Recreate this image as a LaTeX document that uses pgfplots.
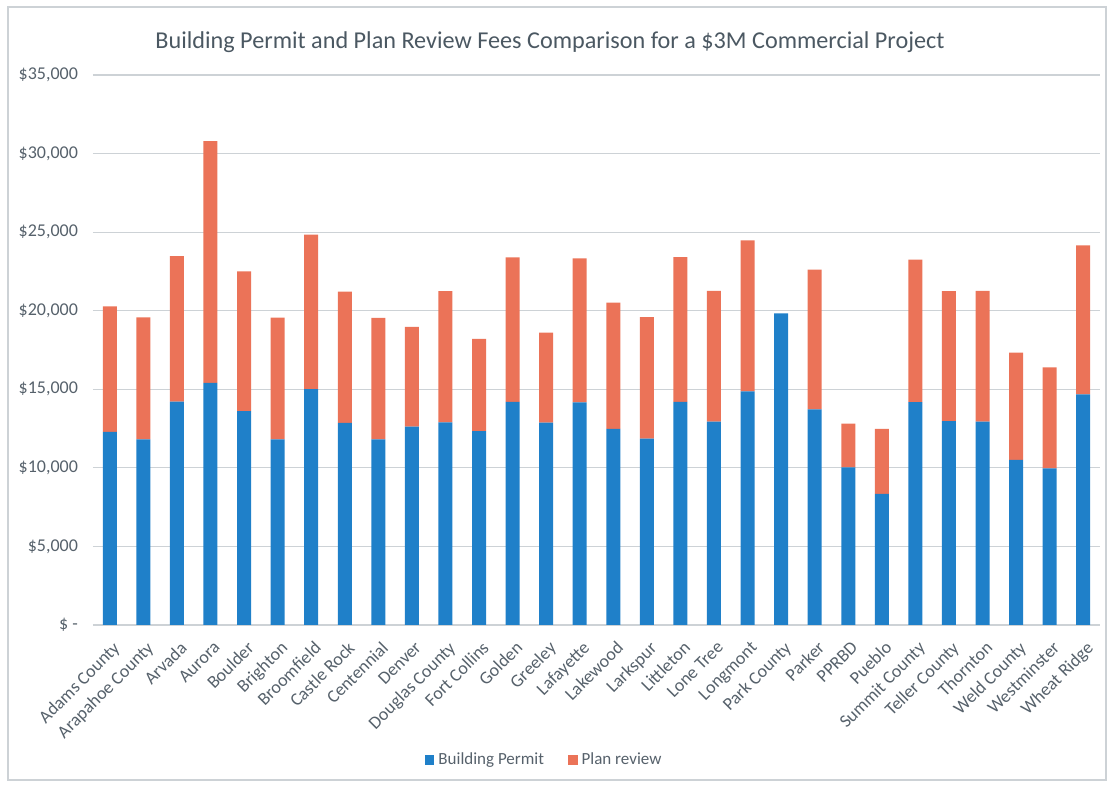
\documentclass[border=0pt]{standalone}
\usepackage{pgfplots}
\pgfplotsset{compat=1.18}
\usepackage{pgfplotstable}
\usepackage{fontspec}
\setmainfont{Carlito}
\definecolor{permit}{HTML}{1F80C9}
\definecolor{review}{HTML}{EB7358}
\definecolor{txt}{HTML}{56616B}
\definecolor{ttl}{HTML}{4B5862}
\definecolor{gridc}{HTML}{CDD2D6}

% permit and plan review fees (USD)
\pgfplotstableread{
x permit review
0  12290 7980
1  11820 7750
2  14220 9250
3  15400 15390
4  13610 8890
5  11820 7740
6  15010 9830
7  12870 8340
8  11820 7730
9  12620 6350
10 12900 8350
11 12330 5880
12 14200 9190
13 12880 5730
14 14160 9170
15 12480 8030
16 11860 7730
17 14200 9210
18 12940 8320
19 14860 9610
20 19830 0
21 13720 8900
22 10030 2790
23 8350  4130
24 14180 9070
25 12970 8280
26 12940 8320
27 10510 6820
28 9960  6430
29 14670 9490
}\fees

\begin{document}
\begin{tikzpicture}
  \useasboundingbox (-46.5pt,-80pt) rectangle (509.5pt,312.5pt);
  \draw[gridc, line width=0.6pt] (-42.5pt,-77.5pt) rectangle (506.5pt,309pt);
  \begin{axis}[
      at={(0,0)}, anchor=south west,
      width=503.5pt, height=275pt, scale only axis,
      ybar stacked, bar width=7pt,
      xmin=-0.5, xmax=29.5, ymin=0, ymax=35000,
      scaled y ticks=false,
      axis line style={draw=none}, tick style={draw=none},
      ymajorgrids=true, grid style={gridc, line width=0.6pt},
      ytick={0,5000,10000,15000,20000,25000,30000,35000},
      yticklabels={{\$ -},{\$5,000},{\$10,000},{\$15,000},{\$20,000},{\$25,000},{\$30,000},{\$35,000}},
      yticklabel style={font=\fontsize{9}{10}\selectfont, text=txt, xshift=-4pt},
      xtick=data,
      xticklabels={Adams County,Arapahoe County,Arvada,Aurora,Boulder,Brighton,Broomfield,Castle Rock,Centennial,Denver,Douglas County,Fort Collins,Golden,Greeley,Lafayette,Lakewood,Larkspur,Littleton,Lone Tree,Longmont,Park County,Parker,PPRBD,Pueblo,Summit County,Teller County,Thornton,Weld County,Westminster,Wheat Ridge},
      xticklabel style={font=\fontsize{9}{10}\selectfont, text=txt, rotate=45, anchor=north east, inner sep=1pt, yshift=-5pt, xshift=-3.5pt},
      legend columns=2,
      legend style={at={(0.449,-0.245)}, anchor=center, draw=none, fill=none,
        font=\fontsize{8.5}{10}\selectfont, text=txt,
        /tikz/every even column/.append style={column sep=10pt}},
      legend image code/.code={\fill[#1] (0pt,-2.4pt) rectangle (4.8pt,2.4pt);},
    ]
    \addplot[fill=permit, draw=none] table[x=x, y=permit] {\fees};
    \addplot[fill=review, draw=none] table[x=x, y=review] {\fees};
    \legend{Building Permit, Plan review}
  \end{axis}
  \node[text=ttl, font=\fontsize{12.1}{15}\selectfont] at (228.5pt,291.5pt)
    {Building Permit and Plan Review Fees Comparison for a \$3M Commercial Project};
\end{tikzpicture}
\end{document}
